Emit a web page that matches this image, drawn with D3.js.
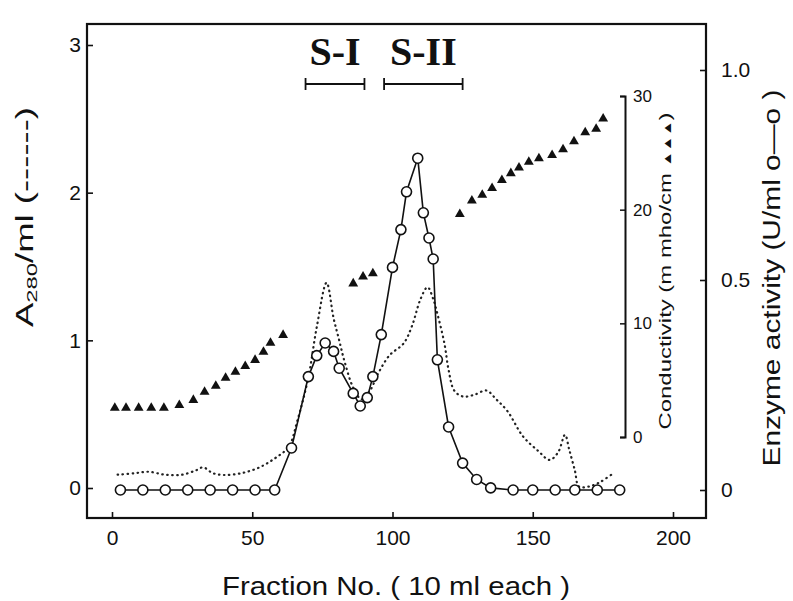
<!DOCTYPE html>
<html><head><meta charset="utf-8">
<script src="https://cdn.jsdelivr.net/npm/d3@7"></script>
<style>body{margin:0;background:#fff} svg{display:block}</style>
</head><body>
<svg id="chart" width="793" height="601"></svg>
<script>
// ---- data ----
const fractionTicks = [0, 50, 100, 150, 200];
const a280Ticks = [0, 1, 2, 3];
const enzymeTicks = [0, 0.5, 1.0];
const condTicks = [0, 10, 20, 30];

// A280/ml (dotted line): [fraction, A280]
const a280 = [[2,0.09],[8,0.1],[13,0.11],[19,0.09],[25,0.09],[30,0.12],[32.5,0.14],[36,0.1],[40,0.088],[46,0.1],[52,0.135],[58,0.2],[63,0.28],[66,0.45],[70,0.75],[73,1.09],[76.5,1.39],[79,1.15],[81,1.0],[83,0.85],[86,0.68],[89,0.6],[92,0.66],[95,0.78],[99,0.9],[104,0.98],[107,1.1],[110,1.28],[112.5,1.36],[114.5,1.28],[116,1.18],[118.5,0.98],[120,0.8],[122,0.66],[125,0.62],[129,0.63],[133.5,0.66],[137,0.6],[141,0.52],[146.5,0.35],[152,0.25],[156,0.19],[159,0.24],[161.5,0.36],[163,0.26],[165,0.12],[166.5,0.01],[170,0.01],[174,0.04],[178,0.09]];

// Enzyme activity U/ml (open circles): [fraction, activity]
const enzyme = [[3,0],[11,0],[19,0],[27,0],[35,0],[43,0],[51,0],[58,0],[64,0.10],[70,0.27],[73,0.32],[76,0.35],[79,0.33],[81,0.29],[86,0.23],[88.5,0.2],[91,0.22],[93,0.27],[96,0.37],[100,0.53],[103,0.62],[105,0.71],[109,0.79],[111,0.66],[113,0.60],[114.5,0.55],[116,0.31],[120,0.15],[125,0.064],[130,0.025],[135,0.005],[143,0],[150,0],[158,0],[165,0],[173,0],[181,0]];

// Conductivity m mho/cm (filled triangles): [fraction, conductivity]
const cond = [[1,2.55],[5,2.55],[9.5,2.55],[14,2.55],[18.5,2.55],[24,2.8],[29,3.25],[33,3.96],[37,4.49],[40.5,5.19],[44,5.72],[47.5,6.24],[51,6.77],[54,7.48],[56.5,8.27],[61,8.97],
  [86,13.5],[89.5,14.1],[93,14.4],
  [124,19.6],[128.3,20.8],[132,21.3],[135.5,21.9],[139,22.6],[142.2,23.2],[145.1,23.7],[148.6,24.2],[152.2,24.5],[156.9,24.8],[160.8,25.3],[164.7,26.0],[168.7,26.8],[172.6,27.1],[175.1,28.0]];

const pools = [{name:"S-I", from:69, to:90}, {name:"S-II", from:97, to:125}];

// ---- drawing ----
const svg = d3.select("#chart");
const sans = "'Liberation Sans', Arial, sans-serif";
const L = 87, R = 706, T = 24, B = 518;

const x = d3.scaleLinear().domain([0, 200]).range([112, 673]);
const yA = d3.scaleLinear().domain([0, 3]).range([488, 45]);
const yE = d3.scaleLinear().domain([0, 1]).range([490, 70]);
const yC = d3.scaleLinear().domain([0, 30]).range([437, 96]);

svg.append("rect").attr("x", L).attr("y", T).attr("width", R - L).attr("height", B - T)
  .attr("fill", "none").attr("stroke", "#111").attr("stroke-width", 2.2);

function style(g, size) {
  g.select(".domain").remove();
  g.selectAll("text").attr("font-family", sans).attr("font-size", size).attr("fill", "#111");
  g.selectAll("line").attr("stroke", "#111").attr("stroke-width", 1.6);
}

svg.append("g").attr("transform", `translate(0,${B})`)
  .call(d3.axisBottom(x).tickValues(fractionTicks).tickSize(-6).tickPadding(12).tickFormat(d3.format("d")))
  .call(g => style(g, 21));

svg.append("g").attr("transform", `translate(${L},0)`)
  .call(d3.axisLeft(yA).tickValues(a280Ticks).tickSize(-6).tickPadding(6).tickFormat(d3.format("d")))
  .call(g => style(g, 21));

svg.append("g").attr("transform", `translate(${R},0)`)
  .call(d3.axisRight(yE).tickValues(enzymeTicks).tickSize(-6).tickPadding(15).tickFormat(d => d === 0 ? "0" : d.toFixed(1)))
  .call(g => style(g, 21));

const cAxis = svg.append("g").attr("transform", "translate(625,0)")
  .call(d3.axisRight(yC).tickValues(condTicks).tickSizeInner(-5).tickSizeOuter(-5).tickPadding(8).tickFormat(d3.format("d")));
cAxis.select(".domain").attr("stroke", "#111").attr("stroke-width", 2);
cAxis.selectAll("text").attr("font-family", sans).attr("font-size", 17).attr("fill", "#111");
cAxis.selectAll("line").attr("stroke", "#111").attr("stroke-width", 1.5);

// pools
const pg = svg.append("g");
pools.forEach(p => {
  const yb = 84;
  pg.append("line").attr("x1", x(p.from)).attr("x2", x(p.to)).attr("y1", yb).attr("y2", yb)
    .attr("stroke", "#111").attr("stroke-width", 2);
  [p.from, p.to].forEach(f => pg.append("line").attr("x1", x(f)).attr("x2", x(f)).attr("y1", yb - 6).attr("y2", yb + 6)
    .attr("stroke", "#111").attr("stroke-width", 1.8));
  pg.append("text").attr("x", x((p.from + p.to) / 2)).attr("y", 65).attr("text-anchor", "middle")
    .attr("font-family", "'Liberation Serif', 'Times New Roman', serif").attr("font-weight", "bold")
    .attr("font-size", 40).attr("fill", "#111").text(p.name);
});

// A280 dotted
svg.append("path").datum(a280)
  .attr("d", d3.line().x(d => x(d[0])).y(d => yA(d[1])).curve(d3.curveCatmullRom.alpha(0.5)))
  .attr("fill", "none").attr("stroke", "#222").attr("stroke-width", 2.2)
  .attr("stroke-dasharray", "0.5,4.5").attr("stroke-linecap", "round");

// enzyme line + circles
svg.append("path").datum(enzyme)
  .attr("d", d3.line().x(d => x(d[0])).y(d => yE(d[1])))
  .attr("fill", "none").attr("stroke", "#111").attr("stroke-width", 1.6);
svg.append("g").selectAll("circle").data(enzyme).join("circle")
  .attr("cx", d => x(d[0])).attr("cy", d => yE(d[1])).attr("r", 5)
  .attr("fill", "#fff").attr("stroke", "#111").attr("stroke-width", 1.6);

// conductivity triangles
svg.append("g").selectAll("path").data(cond).join("path")
  .attr("transform", d => `translate(${x(d[0])},${yC(d[1])})`)
  .attr("d", d3.symbol(d3.symbolTriangle, 42))
  .attr("fill", "#111");

// axis titles
svg.append("text").attr("x", 396).attr("y", 595).attr("text-anchor", "middle")
  .attr("font-family", sans).attr("font-size", 26).attr("fill", "#111")
  .attr("textLength", 348).attr("lengthAdjust", "spacingAndGlyphs")
  .text("Fraction No. ( 10 ml each )");

const aLab = svg.append("text").attr("transform", "translate(33,217) rotate(-90)").attr("text-anchor", "middle")
  .attr("font-family", sans).attr("font-size", 23).attr("fill", "#111")
  .attr("textLength", 220).attr("lengthAdjust", "spacingAndGlyphs");
aLab.append("tspan").text("A");
aLab.append("tspan").attr("font-size", 15).attr("dy", 4).text("280");
aLab.append("tspan").attr("dy", -4).text("/ml (------)");

svg.append("text").attr("transform", "translate(780,278) rotate(-90)").attr("text-anchor", "middle")
  .attr("font-family", sans).attr("font-size", 23).attr("fill", "#111")
  .attr("textLength", 377).attr("lengthAdjust", "spacingAndGlyphs")
  .text("Enzyme activity (U/ml o—o )");

const cLab = svg.append("text").attr("transform", "translate(671,271) rotate(-90)").attr("text-anchor", "middle")
  .attr("font-family", sans).attr("font-size", 17).attr("fill", "#111")
  .attr("textLength", 317).attr("lengthAdjust", "spacingAndGlyphs");
cLab.append("tspan").text("Conductivity (m mho/cm ");
cLab.append("tspan").attr("font-size", 11).text("▲▲▲");
cLab.append("tspan").text(")");
</script>
</body></html>
